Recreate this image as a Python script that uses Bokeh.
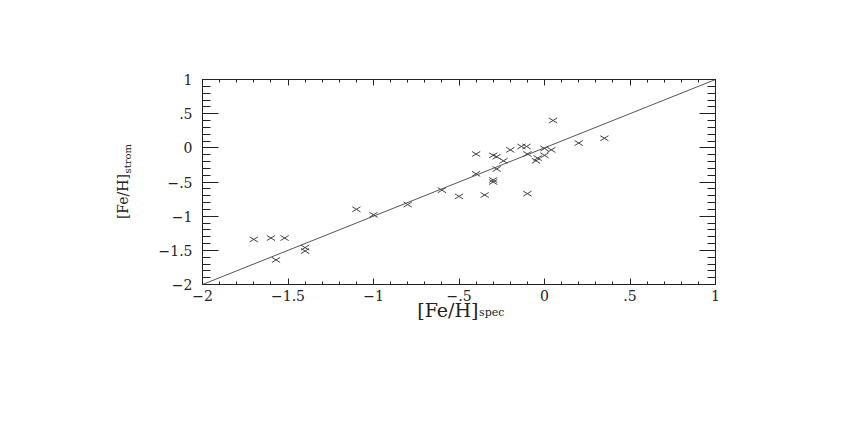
import numpy as np
from bokeh.plotting import figure
from bokeh.models import Range1d, LinearAxis, FixedTicker, Label, ColumnDataSource
from bokeh.embed import file_html
from bokeh.resources import INLINE

# data
fe_spec = [-1.70, -1.60, -1.52, -1.57, -1.40, -1.40, -1.10, -1.00, -0.80, -0.60,
           -0.50, -0.40, -0.40, -0.35, -0.30, -0.30, -0.30, -0.28, -0.28, -0.24,
           -0.20, -0.135, -0.105, -0.10, -0.10, -0.05, -0.04, 0.00, 0.00, 0.04,
           0.05, 0.20, 0.35]
fe_strom = [-1.34, -1.32, -1.32, -1.64, -1.46, -1.51, -0.90, -0.98, -0.83, -0.62,
            -0.71, -0.09, -0.38, -0.69, -0.47, -0.50, -0.11, -0.13, -0.31, -0.19,
            -0.03, 0.02, 0.02, -0.09, -0.67, -0.19, -0.15, -0.11, -0.01, -0.03,
            0.40, 0.07, 0.14]
one_to_one = [-2.0, 1.0]

major_ticks = [-2.0, -1.5, -1.0, -0.5, 0.0, 0.5, 1.0]
tick_labels = ["\u22122", "\u22121.5", "\u22121", "\u2212.5", "0", ".5", "1"]
minor_ticks = [round(-2.0 + 0.1 * i, 1) for i in range(31)]

x_title, x_sub = "[Fe/H]", "spec"
y_title, y_sub = "[Fe/H]", "strom"

FONT = "DejaVu Serif"
INK = "#222222"

p = figure(frame_width=513, frame_height=205,
           min_border_left=202, min_border_right=120,
           min_border_top=79, min_border_bottom=140,
           x_range=Range1d(-2, 1), y_range=Range1d(-2, 1),
           output_backend="svg", toolbar_location=None,
           x_axis_location=None, y_axis_location=None)
p.grid.visible = False
p.outline_line_color = INK
p.outline_line_width = 1
p.background_fill_color = "white"
p.border_fill_color = "white"

overrides = {t: l for t, l in zip(major_ticks, tick_labels)}


def make_axis(kind, labelled):
    ax = LinearAxis(ticker=FixedTicker(ticks=major_ticks, minor_ticks=minor_ticks))
    ax.axis_line_color = INK
    ax.major_tick_line_color = INK
    ax.minor_tick_line_color = INK
    ax.major_tick_out = 0
    ax.minor_tick_out = 0
    if kind == "x":
        ax.major_tick_in = 6
        ax.minor_tick_in = 3
    else:
        ax.major_tick_in = 16
        ax.minor_tick_in = 8
    if labelled:
        ax.major_label_overrides = overrides
        ax.major_label_text_font = FONT
        ax.major_label_text_font_size = "14px"
        ax.major_label_text_color = INK
        ax.major_label_standoff = 5 if kind == "x" else 10
    else:
        ax.major_label_text_color = None
    return ax


p.add_layout(make_axis("x", True), "below")
p.add_layout(make_axis("x", False), "above")
p.add_layout(make_axis("y", True), "left")
p.add_layout(make_axis("y", False), "right")

# one-to-one line
p.line(one_to_one, one_to_one, line_color="#555555", line_width=1)

# flattened "x" markers built from the data arrays
xs = np.array(fe_spec)
ys = np.array(fe_strom)
hx, hy = 0.024, 0.037
src = ColumnDataSource(dict(
    x0=np.concatenate([xs - hx, xs - hx]), y0=np.concatenate([ys - hy, ys + hy]),
    x1=np.concatenate([xs + hx, xs + hx]), y1=np.concatenate([ys + hy, ys - hy])))
p.segment("x0", "y0", "x1", "y1", source=src, line_color="#444444", line_width=1)

# axis titles with subscripts, placed in the side panels (not clipped to the frame)
p.add_layout(Label(x=-0.386, y=-2.38, text=x_title, text_font=FONT, text_font_size="19px",
                   text_color=INK, text_align="right", text_baseline="alphabetic"), "below")
p.add_layout(Label(x=-0.383, y=-2.414, text=x_sub, text_font=FONT, text_font_size="11px",
                   text_color=INK, text_align="left", text_baseline="alphabetic"), "below")
p.add_layout(Label(x=-2.462, y=-0.383, text=y_title, text_font=FONT, text_font_size="14px",
                   text_color=INK, text_align="right", text_baseline="alphabetic",
                   angle=np.pi / 2), "left")
p.add_layout(Label(x=-2.439, y=-0.375, text=y_sub, text_font=FONT, text_font_size="10px",
                   text_color=INK, text_align="left", text_baseline="alphabetic",
                   angle=np.pi / 2), "left")

open("out.html", "w").write(file_html(p, INLINE))
